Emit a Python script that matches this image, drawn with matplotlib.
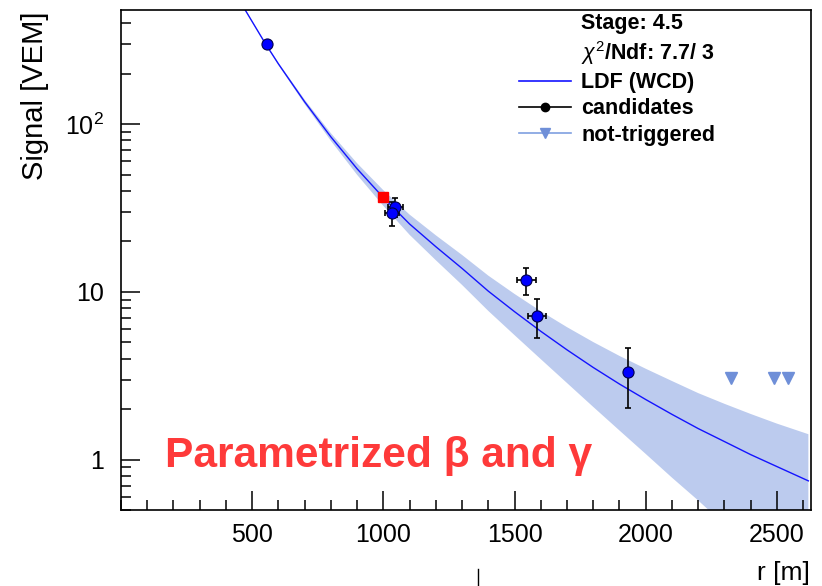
import matplotlib
matplotlib.use('Agg')
import matplotlib.pyplot as plt
from matplotlib.lines import Line2D
from matplotlib.ticker import FixedLocator, MultipleLocator, NullFormatter
import numpy as np

# ---------------- data ----------------
ldf_r = [470, 550, 600, 700, 800, 900, 1000, 1100, 1200, 1300, 1400, 1500,
         1600, 1700, 1800, 1900, 2000, 2100, 2200, 2300, 2400, 2500, 2620]
ldf_s = [490, 303, 229, 136, 84, 54.2, 36.5, 25.4, 18.6, 13.8, 10.1, 7.62,
         5.82, 4.51, 3.54, 2.82, 2.28, 1.86, 1.53, 1.28, 1.07, 0.908, 0.746]
ldf_err = [3, 3, 3.5, 4.2, 4.4, 4.3, 3.9, 3.5, 3.15, 2.8, 2.4, 2.1,
           1.85, 1.65, 1.48, 1.33, 1.2, 1.08, 0.96, 0.87, 0.8, 0.73, 0.67]

cand_r = [557, 1046, 1032, 1545, 1585, 1931]
cand_s = [299, 32.2, 29.4, 11.7, 7.21, 3.32]
cand_serr = [12, 4.1, 4.8, 2.1, 1.87, 1.28]
cand_rerr = [10, 27, 27, 36, 34, 8]

nt_r = [2325, 2490, 2544]
nt_s = [3.05, 3.05, 3.05]

s1000_r = [1000]
s1000_s = [36.6]

legend_labels = ['Stage: 4.5', r'$\chi^{2}$/Ndf: 7.7/ 3', 'LDF (WCD)', 'candidates', 'not-triggered']
x_ticks = [500, 1000, 1500, 2000, 2500]
y_ticks = [1, 10, 100]
y_tick_labels = ['1', '10', r'$10^{2}$']

# ---------------- fonts ----------------
FONT = 'Liberation Sans'
plt.rcParams['font.family'] = [FONT, 'DejaVu Sans']
plt.rcParams['mathtext.fontset'] = 'custom'
plt.rcParams['mathtext.rm'] = FONT
plt.rcParams['mathtext.it'] = FONT + ':italic'
plt.rcParams['mathtext.bf'] = FONT + ':bold'

W, H = 822, 586
fig = plt.figure(figsize=(W / 100, H / 100), dpi=100)
ax = fig.add_axes([121 / W, 76 / H, 690 / W, 500 / H])

# band
lo = np.array(ldf_s) - np.array(ldf_err)
hi = np.array(ldf_s) + np.array(ldf_err)
ax.fill_between(ldf_r, lo, hi, color='#bccbee', lw=0, zorder=1)
ax.plot(ldf_r, ldf_s, color='#1414ff', lw=1.0, zorder=2)

# candidates
ax.errorbar(cand_r, cand_s, yerr=cand_serr, xerr=cand_rerr, fmt='none',
            ecolor='black', elinewidth=1.2, capsize=2.5, capthick=1.2, zorder=3)
ax.plot(cand_r, cand_s, 'o', ms=8, mfc='#0000ff', mec='#00004a', mew=0.8, ls='none', zorder=4)

# S1000 marker
ax.plot(s1000_r, s1000_s, 's', ms=7.5, mfc='#ff0000', mec='#ff0000', ls='none', zorder=4)

# not triggered
ax.plot(nt_r, nt_s, 'v', ms=8, mfc='#6f8fd8', mec='#6f8fd8', ls='none', zorder=4)

ax.set_yscale('log')
ax.set_xlim(0, 2630)
ax.set_ylim(0.5, 480)

ax.xaxis.set_major_locator(FixedLocator(x_ticks))
ax.xaxis.set_minor_locator(MultipleLocator(100))
ax.set_xticklabels([str(t) for t in x_ticks])
ax.yaxis.set_major_locator(FixedLocator(y_ticks))
ax.set_yticklabels(y_tick_labels)
minor_y = [m * 10.0 ** e for e in (-1, 0, 1, 2) for m in range(2, 10)]
ax.yaxis.set_minor_locator(FixedLocator(minor_y))
ax.yaxis.set_minor_formatter(NullFormatter())

ax.tick_params(which='both', direction='in', top=False, right=False, width=1.1, labelsize=18)
ax.tick_params(which='major', length=14)
ax.tick_params(which='minor', length=7)
ax.tick_params(axis='x', pad=9)
ax.tick_params(axis='y', pad=12)
for s in ax.spines.values():
    s.set_linewidth(1.2)

fig.text(35 / W, 1 - 11 / H, 'Signal [VEM]', rotation=90, ha='center', va='top', fontsize=21)
fig.text(810 / W, 1 - 580 / H, 'r [m]', ha='right', va='baseline', fontsize=19)

# legend
handles = [Line2D([], [], ls='none'), Line2D([], [], ls='none'),
           Line2D([], [], color='#1414ff', lw=1.2),
           Line2D([], [], color='black', lw=1.2, marker='o', ms=6, mfc='black', mec='black'),
           Line2D([], [], color='#7f9fe0', lw=1.2, marker='v', ms=7, mfc='#6f8fd8', mec='#6f8fd8')]
leg = ax.legend(handles, legend_labels, loc='upper left', bbox_to_anchor=(519 / W, 1 - 13 / H),
                bbox_transform=fig.transFigure, frameon=False, borderpad=0, borderaxespad=0,
                handlelength=2.4, handletextpad=0.5, labelspacing=0.24,
                prop={'family': FONT, 'weight': 'bold', 'size': 15.5})

fig.text(165 / W, 1 - 467 / H, 'Parametrized β and γ', ha='left', va='baseline',
         fontsize=30.6, fontweight='bold', color='#fe3a3a', family=FONT)

fig.add_artist(Line2D([478 / W, 478 / W], [0, 1 - 569 / H], color='black', lw=1.0,
                      transform=fig.transFigure))

fig.savefig('out.png', dpi=100)
